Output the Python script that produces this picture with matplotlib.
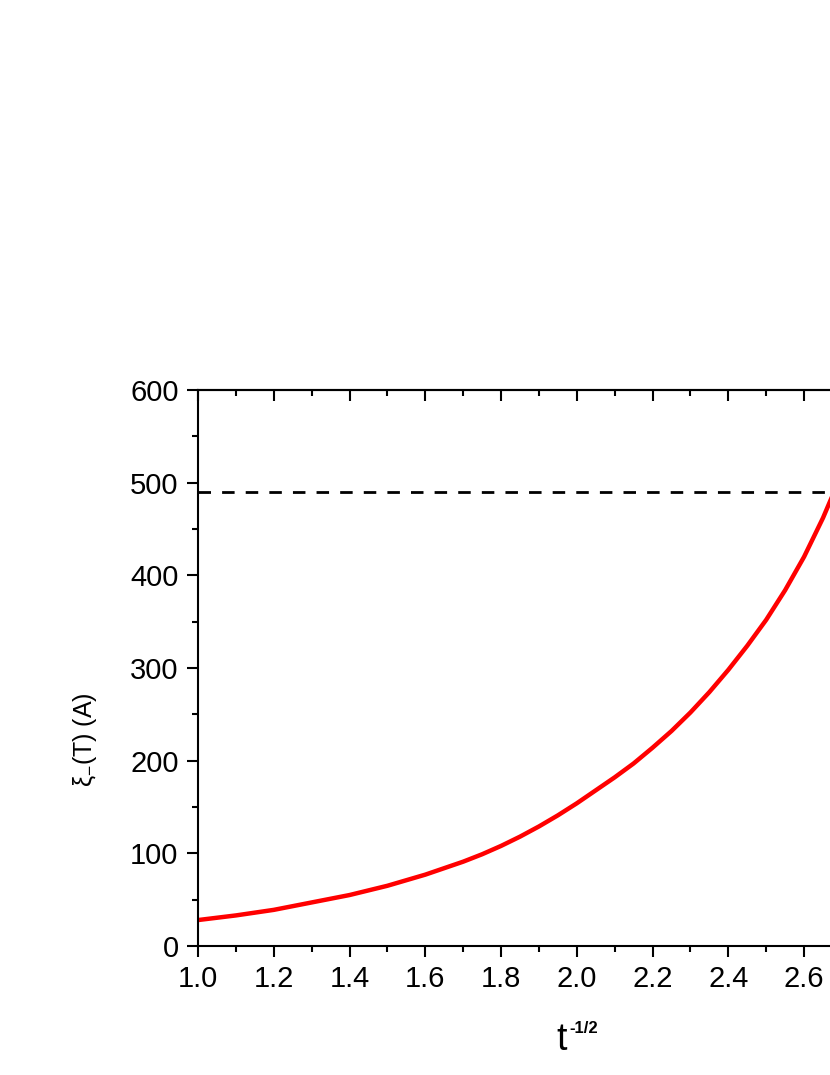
import matplotlib
matplotlib.use('Agg')
import matplotlib.pyplot as plt
from matplotlib.ticker import MultipleLocator, FormatStrFormatter

plt.rcParams['font.family'] = ['Liberation Sans', 'DejaVu Sans']
plt.rcParams['mathtext.fontset'] = 'custom'
plt.rcParams['mathtext.rm'] = 'Liberation Sans'
plt.rcParams['mathtext.it'] = 'Liberation Sans'

# curve
t_inv = [1.00, 1.05, 1.10, 1.15, 1.20, 1.25, 1.30, 1.35, 1.40, 1.45, 1.50,
         1.55, 1.60, 1.65, 1.70, 1.75, 1.80, 1.85, 1.90, 1.95, 2.00,
         2.05, 2.10, 2.15, 2.20, 2.25, 2.30, 2.35, 2.40, 2.45, 2.50,
         2.55, 2.60, 2.65, 2.70]
xi = [28, 30.5, 33, 36, 39, 43, 47, 51, 55, 60, 65,
      71, 77, 84, 91, 99, 108, 118, 129, 141, 154,
      168, 182, 197, 214, 232, 252, 274, 298, 324, 352,
      384, 420, 462, 510]
xi_limit = 490

fig = plt.figure(figsize=(8.3, 10.75), dpi=100)
# axes run past the right edge of the figure, as in the reference
ax = fig.add_axes([0.2386, 0.12, 0.9127, 0.5172])

ax.plot(t_inv, xi, color='red', lw=3.2)
ax.axhline(xi_limit, color='black', lw=2, ls=(0, (4.5, 4)))

ax.set_xlim(1.0, 3.0)
ax.set_ylim(0, 600)
ax.xaxis.set_major_locator(MultipleLocator(0.2))
ax.xaxis.set_minor_locator(MultipleLocator(0.1))
ax.yaxis.set_major_locator(MultipleLocator(100))
ax.yaxis.set_minor_locator(MultipleLocator(50))
ax.xaxis.set_major_formatter(FormatStrFormatter('%.1f'))

# bottom/left ticks point out, top ticks point in
ax.tick_params(which='both', direction='out', width=1.5, labelsize=21)
ax.tick_params(which='major', length=8, pad=6)
ax.tick_params(which='minor', length=4)
for s in ax.spines.values():
    s.set_linewidth(1.5)

top = ax.secondary_xaxis('top')
top.xaxis.set_major_locator(MultipleLocator(0.2))
top.xaxis.set_minor_locator(MultipleLocator(0.1))
top.tick_params(which='both', direction='in', width=1.5, labeltop=False)
top.tick_params(which='major', length=8)
top.tick_params(which='minor', length=4)
top.spines['top'].set_linewidth(1.5)

# x label: big t with a small bold exponent
ax.text(0.4805, -0.187, 't', transform=ax.transAxes,
        ha='center', va='baseline', fontsize=27)
ax.text(0.4898, -0.1565, '-1/2', transform=ax.transAxes,
        ha='left', va='baseline', fontsize=12, fontweight='bold')

ax.set_ylabel(r'$\xi_{-}$(T) (A)', fontsize=18)
ax.yaxis.set_label_coords(-0.131, 0.371)

fig.savefig('out.png', dpi=100)
